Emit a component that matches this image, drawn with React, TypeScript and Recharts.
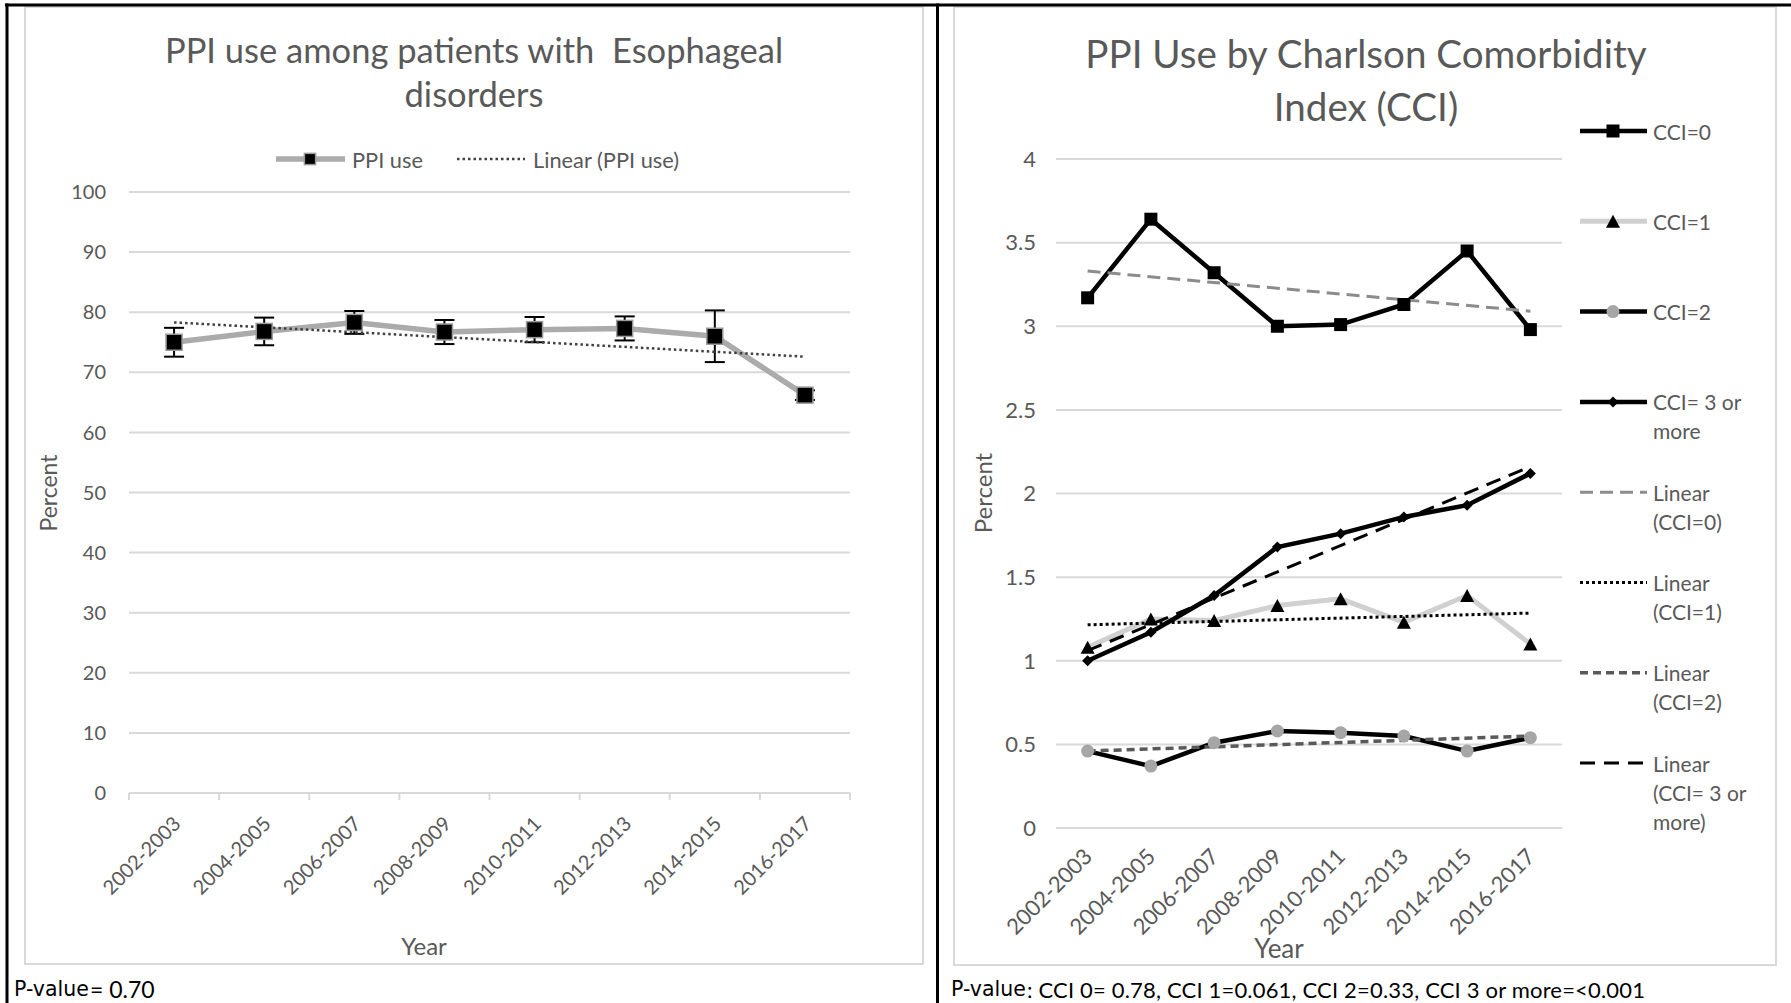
import React from "react";
import { CartesianGrid, ErrorBar, Line, LineChart, XAxis, YAxis } from "recharts";

const FONT = "Lato, 'Open Sans', sans-serif";
const INK = "#595959";
const GRID = "#d9d9d9";

const periods = ["2002-2003", "2004-2005", "2006-2007", "2008-2009", "2010-2011", "2012-2013", "2014-2015", "2016-2017"];

// PPI use among patients with esophageal disorders, percent, with error bar half-widths
const ppiUse = [75.0, 76.8, 78.3, 76.7, 77.1, 77.3, 76.0, 66.2];
const ppiErr = [2.4, 2.3, 1.9, 2.0, 2.1, 2.0, 4.3, 0.8];
const ppiLinear = [78.3, null, null, null, null, null, null, 72.6];
const ppiTicks = [0, 10, 20, 30, 40, 50, 60, 70, 80, 90, 100];

// PPI use by Charlson Comorbidity Index, percent
const cci0 = [3.17, 3.64, 3.32, 3.0, 3.01, 3.13, 3.45, 2.98];
const cci1 = [1.08, 1.25, 1.24, 1.33, 1.37, 1.23, 1.39, 1.1];
const cci2 = [0.46, 0.37, 0.51, 0.58, 0.57, 0.55, 0.46, 0.54];
const cci3 = [1.0, 1.17, 1.39, 1.68, 1.76, 1.86, 1.93, 2.12];
const cci0Linear = [3.33, null, null, null, null, null, null, 3.09];
const cci1Linear = [1.215, null, null, null, null, null, null, 1.285];
const cci2Linear = [0.46, null, null, null, null, null, null, 0.55];
const cci3Linear = [1.06, null, null, null, null, null, null, 2.16];
const cciTicks = [0, 0.5, 1, 1.5, 2, 2.5, 3, 3.5, 4];

const esoRows = periods.map((period, i) => ({ period, ppi: ppiUse[i], err: ppiErr[i], linear: ppiLinear[i] }));
const cciRows = periods.map((period, i) => ({
  period,
  c0: cci0[i],
  c1: cci1[i],
  c2: cci2[i],
  c3: cci3[i],
  l0: cci0Linear[i],
  l1: cci1Linear[i],
  l2: cci2Linear[i],
  l3: cci3Linear[i],
}));

type Shape = "ppi" | "square" | "triangle" | "circle" | "diamond";

function Marker({ shape, x, y, scale = 1 }: { shape: Shape; x: number; y: number; scale?: number }) {
  if (x == null || y == null) return <g />;
  if (shape === "ppi") {
    const h = 8 * scale;
    return <rect x={x - h} y={y - h} width={2 * h} height={2 * h} fill="#000" stroke="#9a9a9a" strokeWidth={1.5} />;
  }
  if (shape === "square") {
    const h = 6.5 * scale;
    return <rect x={x - h} y={y - h} width={2 * h} height={2 * h} fill="#000" />;
  }
  if (shape === "triangle") {
    const w = 7 * scale;
    const h = 6.5 * scale;
    return <polygon points={`${x},${y - h} ${x + w},${y + h} ${x - w},${y + h}`} fill="#000" />;
  }
  if (shape === "circle") return <circle cx={x} cy={y} r={6.5 * scale} fill="#a6a6a6" />;
  const r = 5.5 * scale;
  return <polygon points={`${x},${y - r} ${x + r},${y} ${x},${y + r} ${x - r},${y}`} fill="#000" />;
}

const dotOf = (shape: Shape) => (p: any) => <Marker key={`${shape}-${p.index}`} shape={shape} x={p.cx} y={p.cy} />;

type Series = { key: string; label: string[]; stroke: string; width: number; shape?: Shape; dash?: string };

const cciSeries: Series[] = [
  { key: "c0", label: ["CCI=0"], stroke: "#000", width: 4.5, shape: "square" },
  { key: "c1", label: ["CCI=1"], stroke: "#d0d0d0", width: 5, shape: "triangle" },
  { key: "c2", label: ["CCI=2"], stroke: "#000", width: 4.5, shape: "circle" },
  { key: "c3", label: ["CCI= 3 or", "more"], stroke: "#000", width: 4.5, shape: "diamond" },
  { key: "l0", label: ["Linear", "(CCI=0)"], stroke: "#8c8c8c", width: 3, dash: "13 7" },
  { key: "l1", label: ["Linear", "(CCI=1)"], stroke: "#000", width: 3, dash: "3 3" },
  { key: "l2", label: ["Linear", "(CCI=2)"], stroke: "#595959", width: 3.5, dash: "8 5" },
  { key: "l3", label: ["Linear", "(CCI= 3 or", "more)"], stroke: "#000", width: 3, dash: "15 9" },
];

function SlantTick(props: any) {
  const { x, y, payload, index, size, offX, offY, band } = props;
  const ax = x + offX;
  const ay = y + offY;
  return (
    <g>
      {band ? <line x1={x - band / 2} y1={y} x2={x - band / 2} y2={y + 7} stroke={GRID} strokeWidth={2} /> : null}
      {band && index === periods.length - 1 ? (
        <line x1={x + band / 2} y1={y} x2={x + band / 2} y2={y + 7} stroke={GRID} strokeWidth={2} />
      ) : null}
      <text x={ax} y={ay} transform={`rotate(-45 ${ax} ${ay})`} textAnchor="end" fontSize={size} fontFamily={FONT} fill={INK}>
        {payload.value}
      </text>
    </g>
  );
}

function Label({ x, y, size, children, anchor = "middle", rotate, family = FONT, fill = INK, fit }: any) {
  return (
    <text
      x={x}
      y={y}
      fontSize={size}
      fontFamily={family}
      fill={fill}
      textAnchor={anchor}
      dominantBaseline="central"
      transform={rotate ? `rotate(${rotate} ${x} ${y})` : undefined}
      textLength={fit}
      lengthAdjust={fit ? "spacing" : undefined}
      style={{ whiteSpace: "pre" }}
    >
      {children}
    </text>
  );
}

// category band widths of the two plot areas
const ESO_BAND = 721 / periods.length;
const CCI_BAND = 506 / periods.length;

function EsophagealChart() {
  return (
    <div style={{ position: "absolute", left: 25, top: 7 }}>
      <LineChart width={898} height={957} data={esoRows} margin={{ top: 185, right: 73, bottom: 0, left: 44 }}>
        <CartesianGrid vertical={false} stroke={GRID} strokeWidth={2} />
        <XAxis
          dataKey="period"
          interval={0}
          height={171}
          padding={{ left: ESO_BAND / 2, right: ESO_BAND / 2 }}
          axisLine={{ stroke: GRID, strokeWidth: 2 }}
          tickLine={false}
          tickSize={0}
          tickMargin={0}
          tick={(p: any) => <SlantTick {...p} size={20} offX={8} offY={32} band={ESO_BAND} />}
        />
        <YAxis
          domain={[0, 100]}
          ticks={ppiTicks}
          interval={0}
          width={60}
          axisLine={false}
          tickLine={false}
          tickSize={0}
          tickMargin={23}
          tick={{ fill: INK, fontSize: 20, fontFamily: FONT }}
        />
        <Line dataKey="ppi" stroke="#ababab" strokeWidth={5.5} dot={dotOf("ppi")} activeDot={false} isAnimationActive={false}>
          <ErrorBar dataKey="err" width={10} strokeWidth={2} stroke="#000" direction="y" />
        </Line>
        <Line dataKey="linear" stroke="#404040" strokeWidth={2.5} strokeDasharray="2.5 3" dot={false} activeDot={false} connectNulls isAnimationActive={false} />
      </LineChart>
    </div>
  );
}

function CciChart() {
  return (
    <div style={{ position: "absolute", left: 954, top: 7 }}>
      <LineChart width={822} height={958} data={cciRows} margin={{ top: 152, right: 214, bottom: 0, left: 42 }}>
        <CartesianGrid vertical={false} stroke={GRID} strokeWidth={2} />
        <XAxis
          dataKey="period"
          interval={0}
          height={137}
          padding={{ left: CCI_BAND / 2, right: CCI_BAND / 2 }}
          axisLine={false}
          tickLine={false}
          tickSize={0}
          tickMargin={0}
          tick={(p: any) => <SlantTick {...p} size={22} offX={6} offY={30} />}
        />
        <YAxis
          domain={[0, 4]}
          ticks={cciTicks}
          interval={0}
          width={60}
          axisLine={false}
          tickLine={false}
          tickSize={0}
          tickMargin={20}
          tick={{ fill: INK, fontSize: 22, fontFamily: FONT }}
        />
        {cciSeries.map((s) => (
          <Line
            key={s.key}
            dataKey={s.key}
            stroke={s.stroke}
            strokeWidth={s.width}
            strokeDasharray={s.dash}
            dot={s.shape ? dotOf(s.shape) : false}
            activeDot={false}
            connectNulls
            isAnimationActive={false}
          />
        ))}
      </LineChart>
    </div>
  );
}

function Backdrop() {
  return (
    <svg width={1791} height={1003} style={{ position: "absolute", left: 0, top: 0 }}>
      <rect x={0} y={0} width={1791} height={1003} fill="#fff" />
      <rect x={25} y={7} width={898} height={957} fill="none" stroke={GRID} strokeWidth={2} />
      <rect x={954} y={7} width={822} height={958} fill="none" stroke={GRID} strokeWidth={2} />
      <rect x={5} y={3.5} width={1786} height={3} fill="#000" />
      <rect x={5.5} y={3.5} width={3} height={1000} fill="#000" />
      <rect x={936} y={3.5} width={3} height={1000} fill="#000" />

      {/* left panel text */}
      <Label x={474} y={49} size={34.5}>PPI use among patients with  Esophageal</Label>
      <Label x={474} y={93} size={34.5}>disorders</Label>
      <line x1={276} y1={159} x2={345} y2={159} stroke="#ababab" strokeWidth={5.5} />
      <Marker shape="ppi" x={310} y={159} scale={0.7} />
      <Label x={352} y={159} size={21.8} anchor="start">PPI use</Label>
      <line x1={457} y1={159} x2={525} y2={159} stroke="#404040" strokeWidth={2.5} strokeDasharray="2.5 3" />
      <Label x={533} y={159} size={21.8} anchor="start">Linear (PPI use)</Label>
      <Label x={48} y={493} size={23} rotate={-90}>Percent</Label>
      <Label x={424} y={945} size={24}>Year</Label>

      {/* right panel text */}
      <Label x={1366} y={53} size={38.6}>PPI Use by Charlson Comorbidity</Label>
      <Label x={1366} y={106} size={38.6}>Index (CCI)</Label>
      <Label x={982} y={493} size={24} rotate={-90}>Percent</Label>
      <Label x={1279} y={948} size={26}>Year</Label>
      {cciSeries.map((s, i) => {
        const y = 131 + i * 90.3;
        return (
          <g key={s.key}>
            <line x1={1580} y1={y} x2={1647} y2={y} stroke={s.stroke} strokeWidth={s.width} strokeDasharray={s.dash} />
            {s.shape ? <Marker shape={s.shape} x={1613} y={y} /> : null}
            {s.label.map((t, j) => (
              <Label key={t} x={1653} y={y + j * 29} size={21} anchor="start">
                {t}
              </Label>
            ))}
          </g>
        );
      })}

      {/* p-values under each panel */}
      <Label x={14} y={989} size={20.5} anchor="start" family="'DejaVu Sans'" fill="#000">P-value</Label>
      <Label x={90} y={989} size={23} anchor="start" fill="#000">= 0.70</Label>
      <Label x={951} y={989} size={20.5} anchor="start" family="'DejaVu Sans'" fill="#000">P-value</Label>
      <Label x={1027} y={989} size={22} anchor="start" fill="#000" fit={618}>
        : CCI 0= 0.78, CCI 1=0.061, CCI 2=0.33, CCI 3 or more=&lt;0.001
      </Label>
    </svg>
  );
}

export default function App() {
  return (
    <div style={{ position: "absolute", left: 0, top: 0, width: 1791, height: 1003, background: "#fff", overflow: "hidden" }}>
      <Backdrop />
      <EsophagealChart />
      <CciChart />
    </div>
  );
}
